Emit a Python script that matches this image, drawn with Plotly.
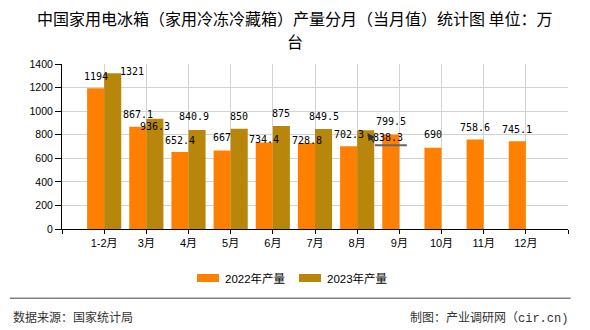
import plotly.graph_objects as go

# ---------------- data ----------------
months = ["1-2月", "3月", "4月", "5月", "6月", "7月", "8月", "9月", "10月", "11月", "12月"]
prod_2022 = [1194, 867.1, 652.4, 667, 734.4, 728.8, 702.3, 799.5, 690, 758.6, 745.1]
prod_2023 = [1321, 936.3, 840.9, 850, 875, 849.5, 838.3]
series_names = ["2022年产量", "2023年产量"]
y_ticks = [0, 200, 400, 600, 800, 1000, 1200, 1400]

title_lines = ["中国家用电冰箱（家用冷冻冷藏箱）产量分月（当月值）统计图 单位：万", "台"]
source_text = "数据来源：国家统计局"
credit_text = "制图：产业调研网（<span style=\"font-family:'Liberation Mono'\">cir.cn)</span>"

# ---------------- styles ----------------
colors = ["#ff8000", "#b8860b"]
W, H = 590, 330
L, R, T, B = 62, 22, 64, 101
PW, PH = W - L - R, H - T - B
BAR_OFF = 8.5  # half bar width in px

# label pixel offsets (dx right, dy up)
lab22_dx = [0] * 11
lab22_dy = [12, 12, 12, 13, 3, 3, 12, 13, 13, 12.5, 12]
lab23_dx = [19, 0, -3.5, 0, 0, 0, 22]
lab23_dy = [1.5, -8, 13, 12, 12, 12.5, -7]

LABEL_FONT = dict(family="DejaVu Sans Mono, Liberation Mono, monospace", size=10, color="#000")
CJK = "Noto Sans CJK SC"


def px(x):
    return (x - L) / PW


def py(y):
    return (H - B - y) / PH


idx = list(range(len(months)))

fig = go.Figure()
fig.add_bar(x=idx, y=prod_2022, name=series_names[0], marker_color=colors[0],
            marker_line_width=0, showlegend=False)
fig.add_bar(x=idx[:len(prod_2023)], y=prod_2023, name=series_names[1], marker_color=colors[1],
            marker_line_width=0, showlegend=False)

annotations = []
for i, v in enumerate(prod_2022):
    annotations.append(dict(x=idx[i], y=v, xref="x", yref="y", text=f"{v:g}", showarrow=False,
                            xshift=-BAR_OFF + lab22_dx[i], yshift=lab22_dy[i],
                            xanchor="center", yanchor="middle", font=LABEL_FONT))
for i, v in enumerate(prod_2023):
    annotations.append(dict(x=idx[i], y=v, xref="x", yref="y", text=f"{v:g}", showarrow=False,
                            xshift=BAR_OFF + lab23_dx[i], yshift=lab23_dy[i],
                            xanchor="center", yanchor="middle", font=LABEL_FONT))

# leader arrow for the displaced 8月 2023 label
k = len(prod_2023) - 1
annotations.append(dict(x=idx[k], y=prod_2023[k], xref="x", yref="y", text="",
                        showarrow=True, arrowhead=2, arrowsize=1, arrowwidth=1.5,
                        arrowcolor="#333", ax=7.6, ay=11, xshift=BAR_OFF + 1.7, yshift=-2.7))

# title (two lines, centred)
for line, yc in zip(title_lines, [18, 41.5]):
    annotations.append(dict(xref="paper", yref="paper", x=px(W / 2), y=py(yc), text=line,
                            showarrow=False, xanchor="center", yanchor="middle",
                            font=dict(family=CJK, size=16, color="#000")))

# custom legend
legend_items = [(197, 219, 222.5), (299, 321, 324.5)]
shapes = []
for (x0, x1, tx), name, c in zip(legend_items, series_names, colors):
    shapes.append(dict(type="rect", xref="paper", yref="paper", x0=px(x0), x1=px(x1),
                       y0=py(282), y1=py(274), fillcolor=c, line_width=0))
    annotations.append(dict(xref="paper", yref="paper", x=px(tx), y=py(278), text=name,
                            showarrow=False, xanchor="left", yanchor="middle",
                            font=dict(family="Liberation Sans, " + CJK, size=11.5, color="#000")))

# underline of the displaced label
shapes.append(dict(type="line", xref="x", yref="y", xsizemode="pixel", ysizemode="pixel",
                   xanchor=idx[k], yanchor=prod_2023[k], x0=17.7, x1=49.7, y0=-15.1, y1=-15.1,
                   line=dict(color="#666", width=2)))

# footer
shapes.append(dict(type="line", xref="paper", yref="paper", x0=px(10), x1=px(570.7),
                   y0=py(298.3), y1=py(298.3), line=dict(color="#808080", width=1.5)))
annotations.append(dict(xref="paper", yref="paper", x=px(11), y=py(316.5), text=source_text,
                        showarrow=False, xanchor="left", yanchor="middle",
                        font=dict(family=CJK, size=12, color="#333")))
annotations.append(dict(xref="paper", yref="paper", x=px(570), y=py(316.5), text=credit_text,
                        showarrow=False, xanchor="right", yanchor="middle",
                        font=dict(family=CJK, size=12, color="#333")))

fig.update_layout(
    width=W, height=H,
    margin=dict(l=L, r=R, t=T, b=B, pad=0),
    paper_bgcolor="white", plot_bgcolor="white",
    barmode="group", bargap=0.19, bargroupgap=0,
    showlegend=False,
    annotations=annotations,
    shapes=shapes,
    xaxis=dict(range=[-1, len(months)], tickmode="array",
               tickvals=list(range(-1, len(months) + 1)),
               ticktext=[""] + months + [""],
               showline=True, linecolor="#000", linewidth=1,
               ticks="outside", ticklen=4, tickcolor="#000", tickwidth=1,
               showgrid=True, gridcolor="#d3d3d3", gridwidth=1, zeroline=False,
               tickfont=dict(family="Liberation Sans, " + CJK, size=11, color="#000")),
    yaxis=dict(range=[0, 1400], tickmode="array", tickvals=y_ticks,
               showline=True, linecolor="#000", linewidth=1,
               ticks="outside", ticklen=6, tickcolor="#000", tickwidth=1,
               showgrid=True, gridcolor="#d3d3d3", gridwidth=1, zeroline=False,
               tickfont=dict(family="Liberation Sans", size=10.5, color="#000")),
)

fig.write_html("out.html")
